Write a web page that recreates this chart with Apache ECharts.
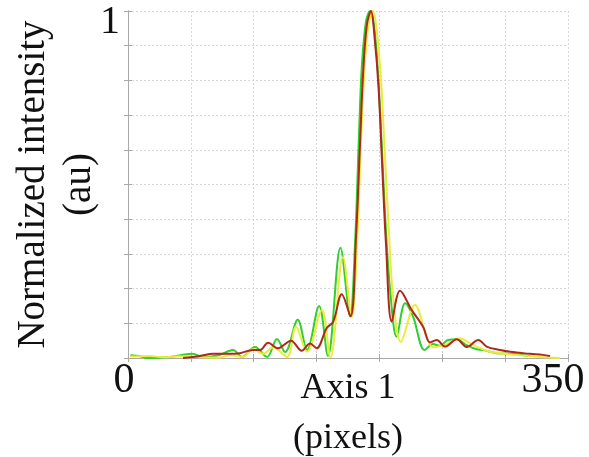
<!DOCTYPE html>
<html>
<head>
<meta charset="utf-8">
<script src="https://cdn.jsdelivr.net/npm/echarts@6/dist/echarts.min.js"></script>
<style>
  html, body { margin: 0; padding: 0; background: #fff; }
  #chart { width: 589px; height: 457px; }
</style>
</head>
<body>
<div id="chart"></div>
<script>
// axis ends shown as labels
const xTickLabels = [0, 350];
const yTickLabels = [1];

// [pixel position, normalized intensity]
const greenLine = [
  [2, 0.008], [9.5, 0.005], [15, 0.0], [33, 0.003], [51, 0.012], [60, 0.003],
  [72, 0.008], [83.5, 0.023], [90.7, 0.003], [101, 0.032], [110.6, 0.003],
  [118.5, 0.055], [125, 0.017], [135, 0.11], [142.4, 0.023], [152, 0.15],
  [159, 0.006], [169, 0.318], [176.6, 0.12], [180.6, 0.33], [183.8, 0.65],
  [186, 0.84], [189.3, 0.97], [192.5, 1.0], [195.7, 0.96], [198.9, 0.82],
  [202, 0.6], [205, 0.38], [208.4, 0.2], [213.7, 0.061], [220.4, 0.158],
  [226.7, 0.12], [236, 0.023], [242.6, 0.04], [248, 0.035], [254.6, 0.052],
  [261.5, 0.054], [269.4, 0.037], [277.4, 0.025], [282.4, 0.023],
  [293.3, 0.014], [304, 0.012], [320, 0.006]
];

const yellowLine = [
  [1.6, 0.004], [17.5, 0.006], [27.8, 0.002], [41, 0.005], [57, 0.002],
  [71.6, 0.001], [81, 0.008], [91.5, 0.003], [99.4, 0.026], [107.4, 0.012],
  [115.3, 0.03], [126.5, 0.003], [133.6, 0.09], [142.4, 0.018], [154.3, 0.138],
  [161, 0.002], [171, 0.29], [178, 0.119], [182.2, 0.33], [185.3, 0.62],
  [188.1, 0.83], [191.3, 0.96], [194.9, 1.0], [198, 0.94], [201.3, 0.8],
  [204.4, 0.58], [207.6, 0.36], [210.8, 0.18], [217, 0.047], [228.3, 0.153],
  [237.6, 0.061], [242.6, 0.031], [253.5, 0.04], [264, 0.057], [272, 0.043],
  [277.4, 0.033], [288, 0.018], [309, 0.009], [327.7, 0.003], [343.6, 0.0]
];

const redLine = [
  [43.8, 0.0], [57.3, 0.006], [67.6, 0.012], [81, 0.012], [89, 0.014],
  [99.4, 0.023], [105, 0.023], [111.4, 0.044], [119.3, 0.028], [129.7, 0.05],
  [138.2, 0.021], [144.8, 0.042], [150, 0.028], [158, 0.086], [163.3, 0.105],
  [170, 0.184], [177, 0.12], [181.4, 0.35], [184.6, 0.62], [187, 0.82],
  [190, 0.96], [193.3, 1.0], [196, 0.93], [199.3, 0.78], [202.5, 0.53],
  [205.2, 0.33], [209.8, 0.105], [216.4, 0.194], [225.7, 0.138], [234.7, 0.09],
  [240.2, 0.045], [245.6, 0.052], [252.2, 0.033], [261.5, 0.054],
  [269.4, 0.032], [278.7, 0.052], [285.3, 0.033], [296, 0.023], [304, 0.018],
  [311.8, 0.015], [319.8, 0.012], [330, 0.009], [335.7, 0.006]
];

const chart = echarts.init(document.getElementById('chart'));

const serif = 'Liberation Serif';
const frameColor = '#a8a8a8';
const gridLine = { show: true, lineStyle: { color: '#d8d8d8', type: [2, 2], width: 1 } };
const tickIn = { show: true, inside: true, length: 4, lineStyle: { color: frameColor } };

function line(data, color) {
  return {
    type: 'line',
    data: data,
    smooth: 0.35,
    symbol: 'none',
    lineStyle: { color: color, width: 2 },
    z: 3
  };
}

chart.setOption({
  animation: false,
  grid: { left: 128, right: 21, top: 11, bottom: 99, containLabel: false, outerBoundsMode: 'none' },
  xAxis: [{
    type: 'value',
    min: 0,
    max: 350,
    interval: 50,
    axisLine: { show: true, lineStyle: { color: frameColor } },
    axisTick: tickIn,
    splitLine: gridLine,
    axisLabel: {
      margin: 2,
      fontFamily: serif,
      fontSize: 40,
      color: '#111',
      formatter: v => xTickLabels.indexOf(v) < 0 ? '' : (v === 0 ? '{a|0}' : '{b|' + v + '}'),
      rich: {
        a: { fontFamily: serif, fontSize: 42, color: '#111', padding: [0, 8, 0, 0] },
        b: { fontFamily: serif, fontSize: 42, color: '#111', padding: [0, 30, 0, 0] }
      }
    },
    name: 'Axis 1\n(pixels)',
    nameLocation: 'middle',
    nameGap: 6,
    nameMoveOverlap: false,
    nameTextStyle: { fontFamily: serif, fontSize: 36, lineHeight: 50, color: '#111' }
  }, {
    type: 'value',
    position: 'top',
    min: 0,
    max: 350,
    interval: 50,
    axisLine: { show: true, lineStyle: { color: frameColor } },
    axisTick: tickIn,
    axisLabel: { show: false },
    splitLine: { show: false }
  }],
  yAxis: [{
    type: 'value',
    min: 0,
    max: 1,
    interval: 0.1,
    axisLine: { show: true, lineStyle: { color: frameColor } },
    axisTick: tickIn,
    splitLine: gridLine,
    axisLabel: {
      margin: 8,
      formatter: v => yTickLabels.indexOf(v) < 0 ? '' : '{a|' + v + '}',
      rich: { a: { fontFamily: serif, fontSize: 40, color: '#111', padding: [22, 0, 0, 0] } }
    },
    name: 'Normalized intensity\n(au)',
    nameLocation: 'middle',
    nameGap: 25,
    nameMoveOverlap: false,
    nameTextStyle: { fontFamily: serif, fontSize: 39, lineHeight: 46, color: '#111' }
  }, {
    type: 'value',
    position: 'right',
    min: 0,
    max: 1,
    interval: 0.1,
    axisLine: { show: true, lineStyle: { color: frameColor } },
    axisTick: tickIn,
    axisLabel: { show: false },
    splitLine: { show: false }
  }],
  series: [
    line(greenLine, '#2fcf2f'),
    line(yellowLine, '#eeea3a'),
    line(redLine, '#b0281a')
  ]
});
</script>
</body>
</html>
